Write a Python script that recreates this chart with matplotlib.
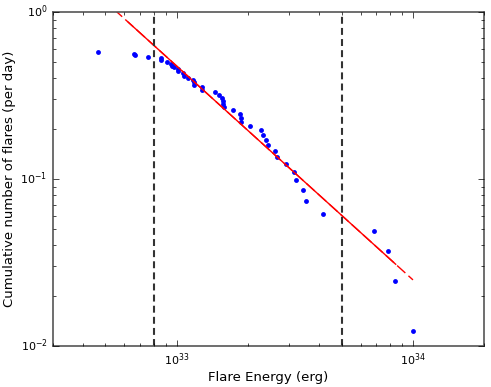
import matplotlib
matplotlib.use('Agg')
import matplotlib.pyplot as plt
import numpy as np

plt.style.use('classic')

# Энергии вспышек (эрг) и кумулятивная частота (в день)
energy = [4.66e32, 6.59e32, 6.66e32, 7.59e32, 8.56e32, 8.61e32, 9.13e32, 9.43e32,
          9.52e32, 9.74e32, 1.010e33, 1.013e33, 1.067e33, 1.078e33, 1.113e33, 1.172e33,
          1.180e33, 1.188e33, 1.276e33, 1.285e33, 1.449e33, 1.507e33, 1.556e33, 1.566e33,
          1.571e33, 1.582e33, 1.739e33, 1.862e33, 1.867e33, 1.870e33, 2.053e33, 2.270e33,
          2.314e33, 2.400e33, 2.447e33, 2.602e33, 2.653e33, 2.916e33, 3.131e33, 3.202e33,
          3.420e33, 3.521e33, 4.169e33, 6.834e33, 7.861e33, 8.414e33, 1.003e34]
rate = [0.5758, 0.5635, 0.5513, 0.5390, 0.5268, 0.5145, 0.5023, 0.4900,
        0.4778, 0.4655, 0.4533, 0.4410, 0.4288, 0.4165, 0.4043, 0.3920,
        0.3798, 0.3675, 0.3553, 0.3430, 0.3308, 0.3185, 0.3063, 0.2940,
        0.2818, 0.2695, 0.2573, 0.2450, 0.2328, 0.2205, 0.2083, 0.1960,
        0.1838, 0.1715, 0.1593, 0.1470, 0.1348, 0.1225, 0.1103, 0.0980,
        0.0858, 0.0735, 0.0613, 0.0490, 0.0368, 0.0245, 0.0123]

# Степенной закон: N(>E) = norm * (E / 1e33) ** alpha
fit_alpha = -1.281
fit_norm = 0.475
fit_dash_range = [4.66e32, 1.0e34]
fit_solid_range = [6.25e32, 8.45e33]

# Границы диапазона аппроксимации
e_low = 8.0e32
e_high = 5.0e33

fig = plt.figure(figsize=(4.91, 3.87), dpi=100, facecolor='white')
ax = fig.add_axes([0.108, 0.106, 0.878, 0.863])

ax.plot(energy, rate, 'b.', markersize=7, markeredgewidth=0)

e_d = np.logspace(np.log10(fit_dash_range[0]), np.log10(fit_dash_range[1]), 50)
ax.plot(e_d, fit_norm * (e_d / 1e33) ** fit_alpha, 'r--', lw=1, dashes=(8, 3))
e_s = np.logspace(np.log10(fit_solid_range[0]), np.log10(fit_solid_range[1]), 50)
ax.plot(e_s, fit_norm * (e_s / 1e33) ** fit_alpha, 'r-', lw=1)

ax.axvline(e_low, color='#333333', ls='--', lw=1.5, dashes=(5, 3))
ax.axvline(e_high, color='#333333', ls='--', lw=1.5, dashes=(5, 3))

ax.set_xscale('log')
ax.set_yscale('log')
ax.set_xlim(3e32, 2e34)
ax.set_ylim(1e-2, 1)

ax.set_xlabel('Flare Energy (erg)', fontsize=9.5, labelpad=2)
ax.set_ylabel('Cumulative number of flares (per day)', fontsize=9.5, labelpad=3)
ax.tick_params(labelsize=8)
ax.tick_params(which='major', length=4, pad=4)
ax.tick_params(which='minor', length=2)
for s in ax.spines.values():
    s.set_color('#555555')
    s.set_linewidth(1.2)

fig.savefig('out.png', dpi=100, facecolor='white')
